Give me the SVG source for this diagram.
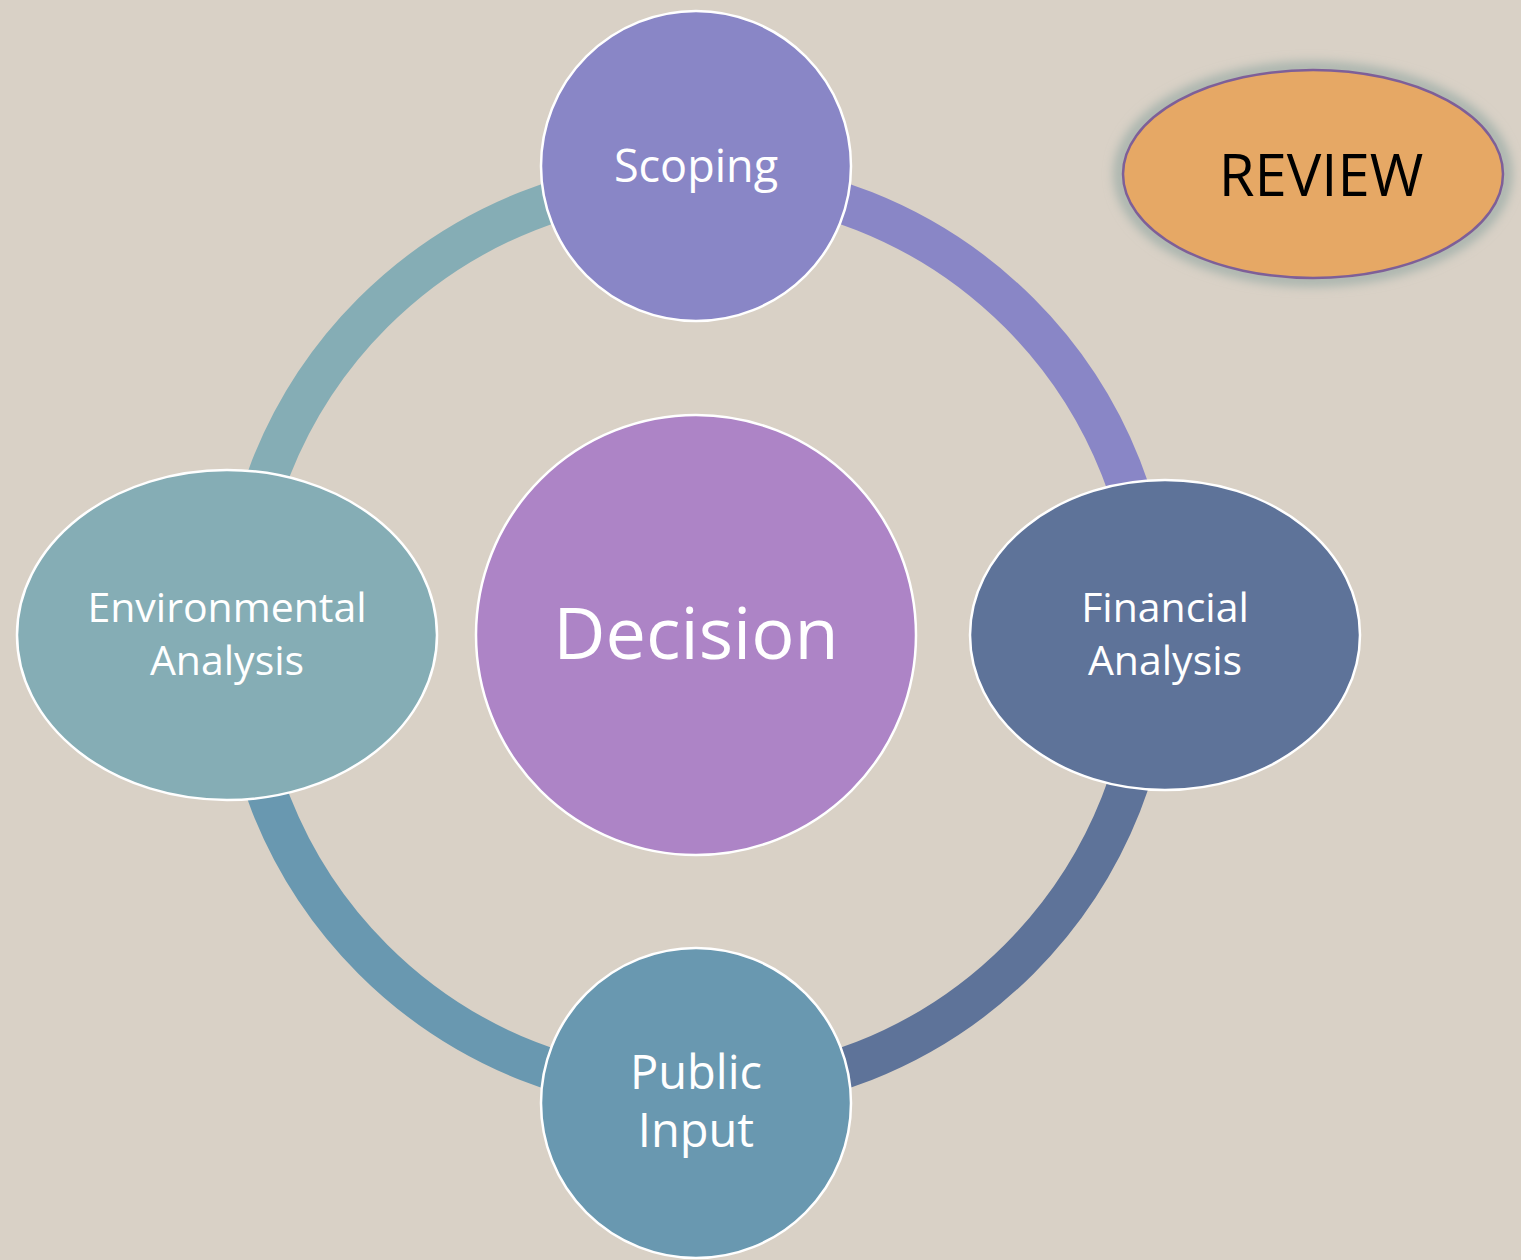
<svg xmlns="http://www.w3.org/2000/svg" width="1521" height="1260" viewBox="0 0 1521 1260">
<defs>
<style>
.node{stroke:#FFFFFF;stroke-width:2.5}
.lbl{font-family:"Open Sans","Noto Sans",sans-serif;fill:#FFFFFF;text-anchor:middle}
.arc{fill:none;stroke-width:41}
</style>
<filter id="glow" x="-20%" y="-30%" width="140%" height="160%">
<feGaussianBlur stdDeviation="6"/>
</filter>
</defs>
<rect x="0" y="0" width="1521" height="1260" fill="#D9D1C6"/>
<g id="connectors">
<path class="arc" stroke="#85ADB5" d="M 239 636 A 457 457 0 0 1 696 179"/>
<path class="arc" stroke="#8986C6" d="M 696 179 A 457 457 0 0 1 1153 636"/>
<path class="arc" stroke="#5E7399" d="M 1153 636 A 457 457 0 0 1 696 1093"/>
<path class="arc" stroke="#6998B0" d="M 696 1093 A 457 457 0 0 1 239 636"/>
</g>
<g id="scoping">
<circle class="node" cx="696" cy="166" r="155" fill="#8986C6"/>
<text class="lbl" x="696" y="182" font-size="45">Scoping</text>
</g>
<g id="environmental">
<ellipse class="node" cx="227" cy="635" rx="210" ry="165" fill="#85ADB5"/>
<text class="lbl" x="227" y="622" font-size="41">Environmental</text>
<text class="lbl" x="227" y="675" font-size="41">Analysis</text>
</g>
<g id="decision">
<circle class="node" cx="696" cy="635" r="220" fill="#AD84C6"/>
<text class="lbl" x="696" y="659" font-size="72">Decision</text>
</g>
<g id="financial">
<ellipse class="node" cx="1165" cy="635" rx="195" ry="155" fill="#5E7399"/>
<text class="lbl" x="1165" y="622" font-size="41">Financial</text>
<text class="lbl" x="1165" y="675" font-size="41">Analysis</text>
</g>
<g id="public">
<circle class="node" cx="696" cy="1103" r="155" fill="#6998B0"/>
<text class="lbl" x="696" y="1089" font-size="47">Public</text>
<text class="lbl" x="696" y="1147" font-size="47">Input</text>
</g>
<g id="review">
<ellipse cx="1313" cy="174" rx="193" ry="106" fill="none" stroke="#9AABA6" stroke-width="10" filter="url(#glow)"/>
<ellipse cx="1313" cy="174" rx="190" ry="104" fill="#E6A865" stroke="#7E5F98" stroke-width="2.5"/>
<text x="1321" y="196" font-family="Open Sans, Noto Sans, sans-serif" font-size="58" fill="#000000" text-anchor="middle">REVIEW</text>
</g>
</svg>
